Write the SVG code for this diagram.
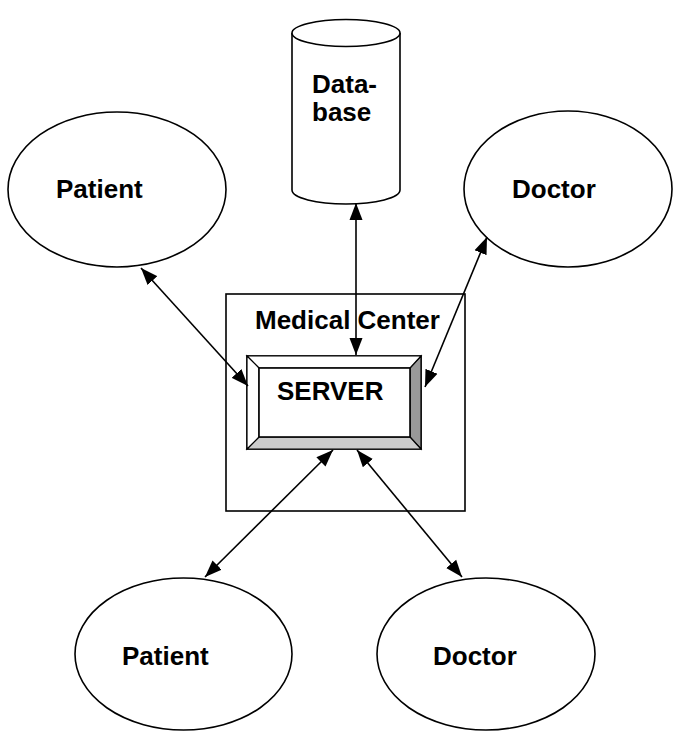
<svg xmlns="http://www.w3.org/2000/svg" width="673" height="731" viewBox="0 0 673 731">
<style>
.shape{fill:#fff;stroke:#000;stroke-width:1.6}
.lbl{font-family:"Liberation Sans",Arial,sans-serif;font-weight:bold;font-size:26px;fill:#000}
.conn{stroke:#000;stroke-width:1.6;fill:none;marker-start:url(#ah);marker-end:url(#ah)}
</style>
<defs>
<marker id="ah" markerWidth="18" markerHeight="14" refX="17" refY="7" orient="auto-start-reverse" markerUnits="userSpaceOnUse">
<path d="M0,0.5 L17,7 L0,13.5 Z" fill="#000"/>
</marker>
</defs>
<rect width="673" height="731" fill="#fff"/>
<g id="medical-center">
<rect class="shape" x="226" y="294" width="239" height="217"/>
<text class="lbl" x="255" y="329">Medical Center</text>
</g>
<g id="server">
<rect x="247" y="356" width="174" height="93" fill="#fff" stroke="#000" stroke-width="1.6"/>
<polygon points="410,368 421,356 421,449 410,437" fill="#999" stroke="#000" stroke-width="1.2"/>
<polygon points="259,437 410,437 421,449 247,449" fill="#ccc" stroke="#000" stroke-width="1.2"/>
<polygon points="247,356 421,356 410,368 259,368" fill="#fff" stroke="#000" stroke-width="1.2"/>
<polygon points="247,356 259,368 259,437 247,449" fill="#fff" stroke="#000" stroke-width="1.2"/>
<rect x="259" y="368" width="151" height="69" fill="#fff" stroke="#000" stroke-width="1.6"/>
<text class="lbl" x="277" y="400">SERVER</text>
</g>
<g id="database">
<path class="shape" d="M292,33 L292,190 A54,14 0 0 0 400,190 L400,33"/>
<ellipse class="shape" cx="346" cy="33" rx="54" ry="13.5"/>
<text class="lbl" x="312" y="93">Data-</text>
<text class="lbl" x="312" y="121">base</text>
</g>
<g id="patient-top">
<ellipse class="shape" cx="117" cy="189.5" rx="109" ry="77.5"/>
<text class="lbl" x="56" y="198">Patient</text>
</g>
<g id="doctor-top">
<ellipse class="shape" cx="568" cy="189" rx="104" ry="78"/>
<text class="lbl" x="512" y="198">Doctor</text>
</g>
<g id="patient-bottom">
<ellipse class="shape" cx="183.5" cy="654" rx="108.5" ry="76"/>
<text class="lbl" x="122" y="665">Patient</text>
</g>
<g id="doctor-bottom">
<ellipse class="shape" cx="486" cy="654" rx="109" ry="76"/>
<text class="lbl" x="433" y="665">Doctor</text>
</g>
<g id="connectors">
<line class="conn" x1="141" y1="268" x2="248" y2="386"/>
<line class="conn" x1="487" y1="237" x2="425" y2="387"/>
<line class="conn" x1="356" y1="203" x2="356" y2="355"/>
<line class="conn" x1="333" y1="450" x2="205" y2="577"/>
<line class="conn" x1="357" y1="450" x2="462" y2="577"/>
</g>
</svg>
